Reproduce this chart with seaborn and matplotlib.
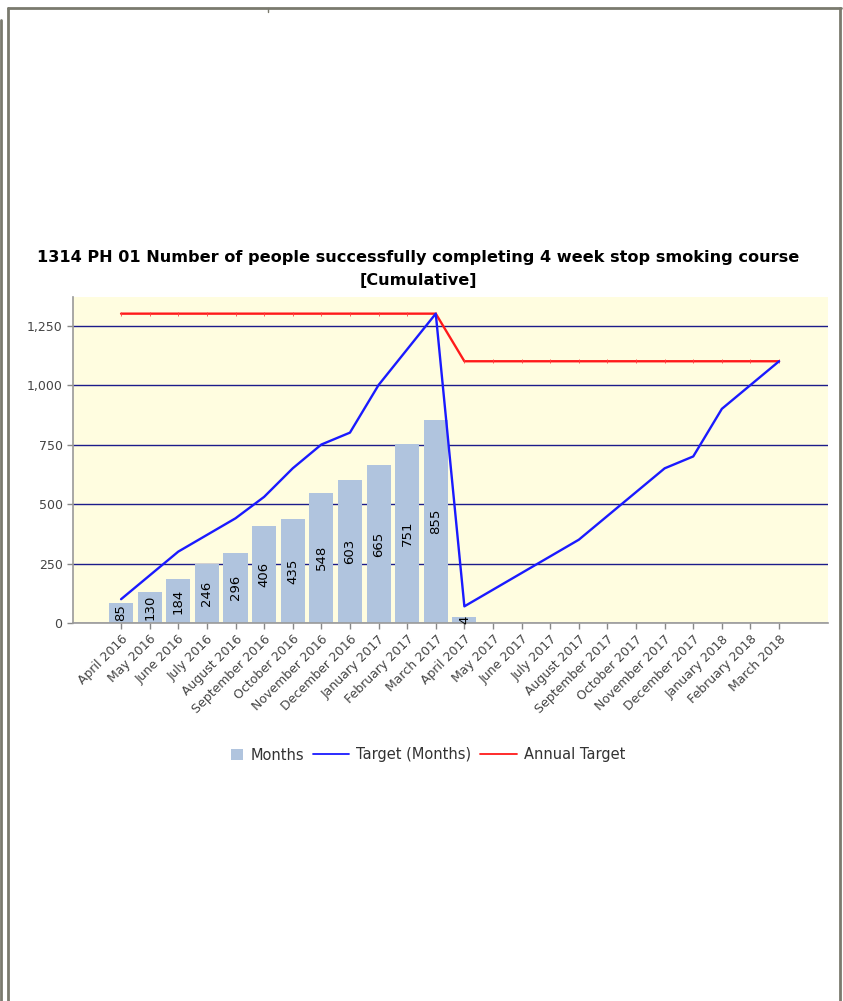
import numpy as np
import pandas as pd
import seaborn as sns
import matplotlib.pyplot as plt
from matplotlib.lines import Line2D
from matplotlib.patches import Patch, Rectangle
from matplotlib.legend_handler import HandlerPatch
from matplotlib.ticker import FuncFormatter

months = ['April 2016', 'May 2016', 'June 2016', 'July 2016', 'August 2016',
          'September 2016', 'October 2016', 'November 2016', 'December 2016',
          'January 2017', 'February 2017', 'March 2017', 'April 2017', 'May 2017',
          'June 2017', 'July 2017', 'August 2017', 'September 2017', 'October 2017',
          'November 2017', 'December 2017', 'January 2018', 'February 2018', 'March 2018']
actual = [85, 130, 184, 246, 296, 406, 435, 548, 603, 665, 751, 855, 24] + [np.nan] * 11
bar_labels = ['85', '130', '184', '246', '296', '406', '435', '548', '603', '665', '751', '855', '4']
target_months = [100, 200, 300, 370, 440, 530, 650, 750, 800, 1000, 1150, 1300,
                 70, 140, 210, 280, 350, 450, 550, 650, 700, 900, 1000, 1100]
annual_target = [1300] * 12 + [1100] * 12
yticks = [0, 250, 500, 750, 1000, 1250]

df = pd.DataFrame({'month': months, 'actual': actual,
                   'target': target_months, 'annual': annual_target})
df['pos'] = np.arange(len(df))

sns.set_theme(style='white')
plt.rcParams['font.family'] = ['DejaVu Sans']

W, H = 843, 1001
fig = plt.figure(figsize=(W / 100, H / 100), dpi=100)
ax = fig.add_axes([73 / W, 1 - 623 / H, (828 - 73) / W, (623 - 297) / H])
ax.set_facecolor('#fffde0')

for v in yticks:
    ax.axhline(v, color='#1c1c8a', lw=1.0, zorder=0.5)

sns.barplot(data=df, x='month', y='actual', color='#b0c4de', saturation=1,
            width=0.84, linewidth=0, ax=ax, zorder=2)
sns.lineplot(data=df, x='pos', y='target', color='#1a1aff', lw=1.7, ax=ax,
             sort=False, zorder=4)
sns.lineplot(data=df, x='pos', y='annual', color='#ff1a1a', lw=1.7, ax=ax,
             sort=False, marker='|', markersize=3, markeredgewidth=0.6,
             markeredgecolor='#ff4040', zorder=3)

for i, lab in enumerate(bar_labels):
    ax.text(i, actual[i] / 2, lab, rotation=90, ha='center', va='center',
            fontsize=9.5, color='black', zorder=5)

ax.set_xlim(-1.68, 23 + 1.71)
ax.set_ylim(0, 1370)
ax.set_yticks(yticks)
ax.yaxis.set_major_formatter(FuncFormatter(lambda v, p: f'{int(v):,}'))
ax.set_xticks(range(len(months)))
ax.set_xticklabels(months, rotation=45, ha='right', rotation_mode='anchor')
ax.tick_params(axis='both', colors='#888888', labelcolor='#444444', labelsize=9,
               length=4, width=1, direction='out', left=True, bottom=True)
ax.tick_params(axis='x', pad=3)
ax.set_xlabel('')
ax.set_ylabel('')
for s in ['top', 'right']:
    ax.spines[s].set_visible(False)
for s in ['left', 'bottom']:
    ax.spines[s].set_color('#999999')
    ax.spines[s].set_linewidth(1.2)

fig.text(418 / W, 1 - 258 / H,
         '1314 PH 01 Number of people successfully completing 4 week stop smoking course',
         ha='center', va='center', fontsize=11.6, fontweight='bold', color='black')
fig.text(418 / W, 1 - 280 / H, '[Cumulative]',
         ha='center', va='center', fontsize=11.6, fontweight='bold', color='black')


def square_patch(legend, orig_handle, xdescent, ydescent, width, height, fontsize):
    s = height * 1.15
    return Rectangle((xdescent + width - s, ydescent + (height - s) / 2), s, s)


handles = [Patch(facecolor='#b0c4de', edgecolor='none'),
           Line2D([], [], color='#1a1aff', lw=1.3),
           Line2D([], [], color='#ff1a1a', lw=1.3)]
fig.legend(handles, ['Months', 'Target (Months)', 'Annual Target'],
           loc='center', bbox_to_anchor=(416 / W, 1 - 755 / H), ncol=3,
           frameon=False, fontsize=10.5, labelcolor='#333333',
           handlelength=2.5, handletextpad=0.5, columnspacing=0.6,
           handler_map={Patch: HandlerPatch(patch_func=square_patch)})

# page frame lines
frame = '#7a7a6e'
def px_line(x0, y0, x1, y1, lw=2):
    fig.add_artist(Line2D([x0 / W, x1 / W], [1 - y0 / H, 1 - y1 / H],
                          color=frame, lw=lw, transform=fig.transFigure))

px_line(1, 20, 1, 1001)
px_line(8, 8, 8, 1001)
px_line(8, 8, 841, 8)
px_line(840, 8, 840, 1001)
px_line(268, 8, 268, 12, lw=1)

fig.savefig('out.png', dpi=100)
